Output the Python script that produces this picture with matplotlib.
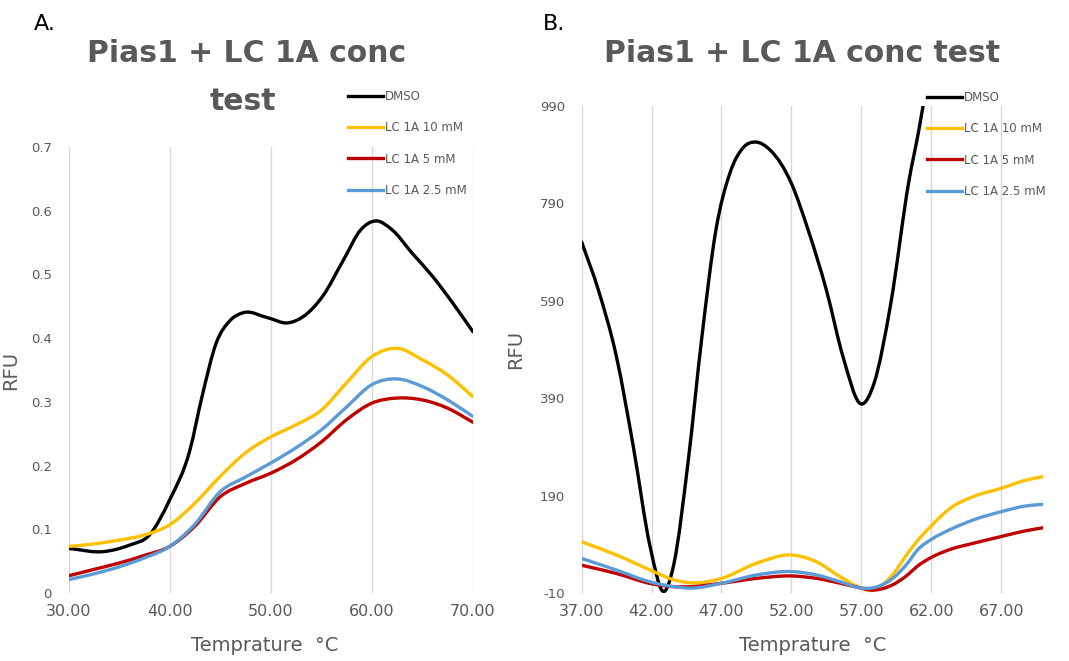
import matplotlib
matplotlib.use("Agg")
import matplotlib.pyplot as plt
from matplotlib.path import Path
from matplotlib.patches import PathPatch
from matplotlib.lines import Line2D

plt.rcParams['font.family'] = ['DejaVu Sans']

# ---- Panel A data ----
temp_a_dmso = [30, 33.5, 36, 38, 40, 42, 43.2, 44.6, 46, 47.3, 49.7, 51.7, 53.4,
               55.1, 57.2, 58.9, 60.4, 62, 64, 66, 68, 70]
rfu_a_dmso = [0.07, 0.065, 0.075, 0.091, 0.146, 0.224, 0.308, 0.392, 0.428, 0.44,
              0.432, 0.424, 0.436, 0.465, 0.523, 0.570, 0.584, 0.570, 0.533, 0.497,
              0.455, 0.41]
temp_a = [30, 32.5, 35, 37.5, 40, 42.5, 45, 47.5, 50, 52.5, 55, 57.5, 60, 62.5, 65, 67.5, 70]
rfu_a_10mm = [0.073, 0.077, 0.083, 0.091, 0.107, 0.141, 0.183, 0.22, 0.245, 0.264,
              0.287, 0.33, 0.371, 0.384, 0.366, 0.342, 0.308]
rfu_a_5mm = [0.027, 0.037, 0.047, 0.059, 0.073, 0.105, 0.151, 0.172, 0.188, 0.209,
             0.237, 0.272, 0.298, 0.306, 0.303, 0.29, 0.268]
rfu_a_2p5mm = [0.021, 0.030, 0.041, 0.055, 0.073, 0.108, 0.159, 0.182, 0.204, 0.228,
               0.256, 0.292, 0.327, 0.336, 0.324, 0.303, 0.277]
xticks_a = [30, 40, 50, 60, 70]
yticks_a = [0, 0.1, 0.2, 0.3, 0.4, 0.5, 0.6, 0.7]

# ---- Panel B data ----
temp_b_dmso = [37, 38.2, 39.5, 40.7, 41.9, 42.9, 43.6, 44.6, 45.6, 46.6, 47.6, 48.6,
               49.4, 50.5, 52, 53.2, 54.5, 55.7, 57.0, 57.9, 59.1, 60.4, 61.1, 62]
rfu_b_dmso = [711, 612, 474, 290, 85, -7, 50, 256, 516, 735, 852, 906, 916, 899, 831,
              735, 612, 474, 378, 420, 584, 836, 939, 1090]
temp_b = [37, 39.5, 42, 43.6, 44.8, 47, 49.5, 52, 53.8, 55.5, 57, 57.7, 59.1, 60.3,
          61, 62, 63.4, 65, 67, 68.8, 70]
rfu_b_10mm = [95, 68, 36, 17, 11, 20, 51, 68, 54, 23, 0, -5, 23, 71, 97, 128, 165,
              188, 205, 222, 229]
rfu_b_5mm = [47, 30, 9, 3, 3, 10, 20, 25, 20, 10, 0, -4, 5, 27, 45, 63, 80, 92, 106,
             118, 124]
rfu_b_2p5mm = [61, 37, 12, 3, 0, 10, 27, 34, 27, 13, 0, 0, 17, 51, 78, 100, 121, 140,
               157, 169, 172]
xticks_b = [37, 42, 47, 52, 57, 62, 67]
yticks_b = [-10, 190, 390, 590, 790, 990]

labels = ["DMSO", "LC 1A 10 mM", "LC 1A 5 mM", "LC 1A 2.5 mM"]
colors = ["#000000", "#FFC000", "#C00000", "#5B9BD5"]
GRAY = "#595959"
LW = 2.4
W, H = 1069, 661


def smooth_line(ax, x, y, color):
    """Draw a smoothed line (cubic Hermite segments as Bezier curves) through the points."""
    n = len(x)
    slopes = []
    for i in range(n):
        if i == 0:
            slopes.append((y[1] - y[0]) / (x[1] - x[0]))
        elif i == n - 1:
            slopes.append((y[-1] - y[-2]) / (x[-1] - x[-2]))
        else:
            h0, h1 = x[i] - x[i - 1], x[i + 1] - x[i]
            d0, d1 = (y[i] - y[i - 1]) / h0, (y[i + 1] - y[i]) / h1
            slopes.append((h1 * d0 + h0 * d1) / (h0 + h1))
    verts = [(x[0], y[0])]
    codes = [Path.MOVETO]
    for i in range(n - 1):
        d = (x[i + 1] - x[i]) / 3
        verts += [(x[i] + d, y[i] + slopes[i] * d),
                  (x[i + 1] - d, y[i + 1] - slopes[i + 1] * d),
                  (x[i + 1], y[i + 1])]
        codes += [Path.CURVE4] * 3
    patch = PathPatch(Path(verts, codes), facecolor='none', edgecolor=color,
                      lw=LW, capstyle='round', joinstyle='round')
    ax.add_patch(patch)


fig = plt.figure(figsize=(W / 100, H / 100), dpi=100)
ax_a = fig.add_axes([68.5 / W, 1 - 593 / H, (473 - 68.5) / W, (593 - 147) / H])
ax_b = fig.add_axes([581.6 / W, 1 - 593 / H, (1043.2 - 581.6) / W, (593 - 106) / H])


def style(ax, xticks, yticks, xfmt, yfmt):
    for s in ax.spines.values():
        s.set_visible(False)
    ax.set_xticks(xticks)
    ax.set_xticklabels([xfmt(v) for v in xticks])
    ax.set_yticks(yticks)
    ax.set_yticklabels([yfmt(v) for v in yticks])
    ax.tick_params(axis='both', length=0, labelcolor=GRAY)
    ax.tick_params(axis='x', labelsize=11.5, pad=8)
    ax.tick_params(axis='y', labelsize=9.5, pad=12)
    ax.grid(axis='x', color="#D9D9D9", linewidth=1.0)
    ax.set_axisbelow(True)
    ax.set_xlabel("Temprature  °C", fontsize=14, color=GRAY)
    ax.set_ylabel("RFU", fontsize=14, color=GRAY)


# Panel A
series_a = [(temp_a_dmso, rfu_a_dmso), (temp_a, rfu_a_10mm), (temp_a, rfu_a_5mm), (temp_a, rfu_a_2p5mm)]
for (x, y), c in zip(series_a, colors):
    smooth_line(ax_a, x, y, c)
ax_a.set_xlim(30, 70)
ax_a.set_ylim(0, 0.7)
style(ax_a, xticks_a, yticks_a, lambda v: f"{v:.2f}", lambda v: "0" if v == 0 else f"{v:g}")
ax_a.yaxis.set_label_coords(-0.12, 0.5)
ax_a.xaxis.set_label_coords(0.485, -0.096)

# Panel B
series_b = [(temp_b_dmso, rfu_b_dmso), (temp_b, rfu_b_10mm), (temp_b, rfu_b_5mm), (temp_b, rfu_b_2p5mm)]
for (x, y), c in zip(series_b, colors):
    smooth_line(ax_b, x, y, c)
ax_b.set_xlim(37, 70)
ax_b.set_ylim(-10, 990)
style(ax_b, xticks_b, yticks_b, lambda v: f"{v:.2f}", lambda v: f"{v:g}")
ax_b.yaxis.set_label_coords(-0.122, 0.5)
ax_b.xaxis.set_label_coords(0.5, -0.088)

# Legends
handles = [Line2D([], [], color=c, lw=LW) for c in colors]
leg_kw = dict(frameon=False, fontsize=8.5, handlelength=3.0, handletextpad=0.15,
              labelspacing=1.55, borderaxespad=0, borderpad=0)
la = fig.legend(handles=handles, labels=labels, loc='upper left',
                bbox_to_anchor=(348 / W, 1 - 90 / H), **leg_kw)
lb = fig.legend(handles=handles, labels=labels, loc='upper left',
                bbox_to_anchor=(927 / W, 1 - 91 / H), **leg_kw)
for lg in (la, lb):
    for t in lg.get_texts():
        t.set_color(GRAY)

# Titles and panel letters
fig.text(247 / W, 1 - 53 / H, "Pias1 + LC 1A conc", ha='center', va='center',
         fontsize=21.5, fontweight='bold', color=GRAY)
fig.text(243 / W, 1 - 101 / H, "test", ha='center', va='center',
         fontsize=21.5, fontweight='bold', color=GRAY)
fig.text(802 / W, 1 - 53 / H, "Pias1 + LC 1A conc test", ha='center', va='center',
         fontsize=21.5, fontweight='bold', color=GRAY)
fig.text(34 / W, 1 - 24 / H, "A.", ha='left', va='center', fontsize=16, color="black")
fig.text(543 / W, 1 - 24 / H, "B.", ha='left', va='center', fontsize=16, color="black")

fig.savefig("out.png", dpi=100)
